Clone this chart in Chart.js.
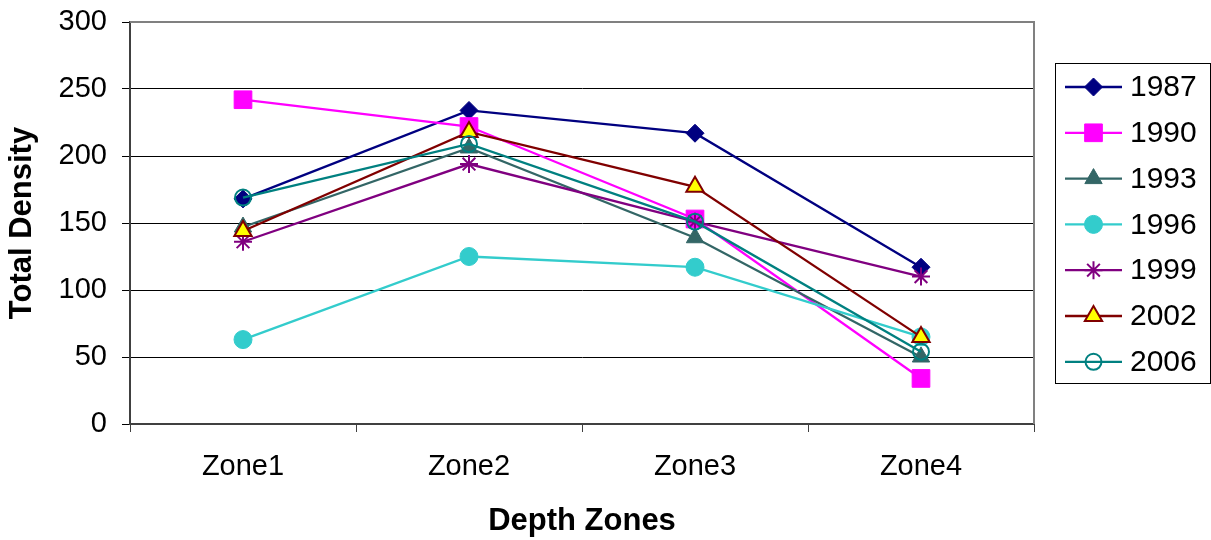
<!DOCTYPE html>
<html>
<head>
<meta charset="utf-8">
<script src="https://cdn.jsdelivr.net/npm/chart.js@4/dist/chart.umd.min.js"></script>
<style>
  html, body { margin: 0; padding: 0; background: #fff; }
  #wrap { width: 1211px; height: 540px; }
</style>
</head>
<body>
<div id="wrap"><canvas id="chart" width="1211" height="540"></canvas></div>
<script>
// Data
const zones = ["Zone1", "Zone2", "Zone3", "Zone4"];
const years = ["1987", "1990", "1993", "1996", "1999", "2002", "2006"];
const d1987 = [168, 234, 217, 117];
const d1990 = [242, 222, 153, 34];
const d1993 = [147, 206, 139, 50];
const d1996 = [63, 125, 117, 65];
const d1999 = [136, 194, 151, 110];
const d2002 = [144, 218, 177, 65];
const d2006 = [169, 209, 151, 54];
const yTicks = [0, 50, 100, 150, 200, 250, 300];

const FONT = "'Liberation Sans', Arial, sans-serif";

// Series look: line colour, marker fill, marker shape, marker size
const seriesStyle = [
    { data: d1987, color: "#000080", fill: "#000080", shape: "rectRot",  radius: 9,    bw: 1 },
    { data: d1990, color: "#FF00FF", fill: "#FF00FF", shape: "rect",     radius: 12.5, bw: 1 },
    { data: d1993, color: "#336666", fill: "#336666", shape: "triangle", radius: 10,   bw: 1 },
    { data: d1996, color: "#33CCCC", fill: "#33CCCC", shape: "circle",   radius: 9,    bw: 1 },
    { data: d1999, color: "#800080", fill: "#800080", shape: "star",     radius: 9,    bw: 2 },
    { data: d2002, color: "#800000", fill: "#FFFF00", shape: "triangle", radius: 10,   bw: 2 },
    { data: d2006, color: "#008080", fill: "rgba(0,0,0,0)", shape: "circle", radius: 8, bw: 2 },
];

const datasets = seriesStyle.map((s, i) => ({
    label: years[i],
    data: s.data,
    borderColor: s.color,
    backgroundColor: s.fill,
    borderWidth: 2.3,
    tension: 0,
    pointStyle: s.shape,
    pointRadius: s.radius,
    pointHoverRadius: s.radius,
    pointBackgroundColor: s.fill,
    pointBorderColor: s.color,
    pointBorderWidth: s.bw,
    order: years.length - i, // later series on top, as in the original
}));

// Gray frame on top / right of plot area
const frame = {
    id: "frame",
    beforeDatasetsDraw(chart) {
        const { ctx, chartArea: a } = chart;
        ctx.save();
        ctx.strokeStyle = "#808080";
        ctx.lineWidth = 2;
        ctx.beginPath();
        ctx.moveTo(a.left, a.top);
        ctx.lineTo(a.right, a.top);
        ctx.lineTo(a.right, a.bottom);
        ctx.stroke();
        ctx.restore();
    },
};

// Boxed legend on the right, line sample with marker in the middle
const boxLegend = {
    id: "boxLegend",
    afterDraw(chart) {
        const ctx = chart.ctx;
        const box = { x: 1055.5, y: 63.5, w: 155, h: 320 };
        ctx.save();
        ctx.strokeStyle = "#000";
        ctx.lineWidth = 1;
        ctx.strokeRect(box.x, box.y, box.w, box.h);
        ctx.font = "30px " + FONT;
        ctx.textBaseline = "middle";
        ctx.textAlign = "left";
        chart.data.datasets.forEach((ds, i) => {
            const y = 87 + i * 45.8;
            ctx.strokeStyle = ds.borderColor;
            ctx.lineWidth = 2.3;
            ctx.beginPath();
            ctx.moveTo(1065, y);
            ctx.lineTo(1122, y);
            ctx.stroke();
            if (Chart.helpers && Chart.helpers.drawPoint) {
                ctx.fillStyle = ds.pointBackgroundColor;
                ctx.strokeStyle = ds.pointBorderColor;
                ctx.lineWidth = ds.pointBorderWidth;
                Chart.helpers.drawPoint(ctx, {
                    pointStyle: ds.pointStyle,
                    radius: ds.pointRadius,
                    rotation: 0,
                    borderWidth: ds.pointBorderWidth,
                }, 1093.5, y);
            }
            ctx.fillStyle = "#000";
            ctx.fillText(ds.label, 1130, y + 1);
        });
        ctx.restore();
    },
};

new Chart(document.getElementById("chart"), {
    type: "line",
    data: { labels: zones, datasets },
    options: {
        responsive: false,
        animation: false,
        devicePixelRatio: 1,
        layout: { padding: { top: 22, right: 177, left: 0, bottom: 0 } },
        plugins: {
            legend: { display: false },
            tooltip: { enabled: false },
        },
        scales: {
            x: {
                type: "category",
                offset: true,
                grid: {
                    offset: true,
                    drawOnChartArea: false,
                    drawTicks: true,
                    tickLength: 8,
                    color: "#404040",
                    lineWidth: 1,
                },
                border: { display: true, color: "#404040", width: 2 },
                ticks: {
                    color: "#000",
                    font: { family: FONT, size: 29 },
                    padding: 18,
                    maxRotation: 0,
                },
                title: {
                    display: true,
                    text: "Depth Zones",
                    color: "#000",
                    font: { family: FONT, size: 31, weight: "bold" },
                    padding: { top: 0, bottom: 0 },
                },
                afterFit(scale) {
                    scale.height = 116;
                    scale.paddingLeft = 0;
                    scale.paddingRight = 0;
                },
            },
            y: {
                min: 0,
                max: 300,
                afterBuildTicks(scale) { scale.ticks = yTicks.map(v => ({ value: v })); },
                grid: {
                    color: "#000",
                    lineWidth: 1,
                    drawTicks: true,
                    tickLength: 8,
                },
                border: { display: true, color: "#404040", width: 2 },
                ticks: {
                    color: "#000",
                    font: { family: FONT, size: 29 },
                    padding: 15,
                },
                title: {
                    display: true,
                    text: "Total Density",
                    color: "#000",
                    font: { family: FONT, size: 31, weight: "bold" },
                    padding: { top: 4, bottom: 0 },
                },
                afterFit(scale) {
                    scale.width = 130;
                    scale.paddingTop = 0;
                    scale.paddingBottom = 0;
                },
            },
        },
    },
    plugins: [frame, boxLegend],
});
</script>
</body>
</html>
